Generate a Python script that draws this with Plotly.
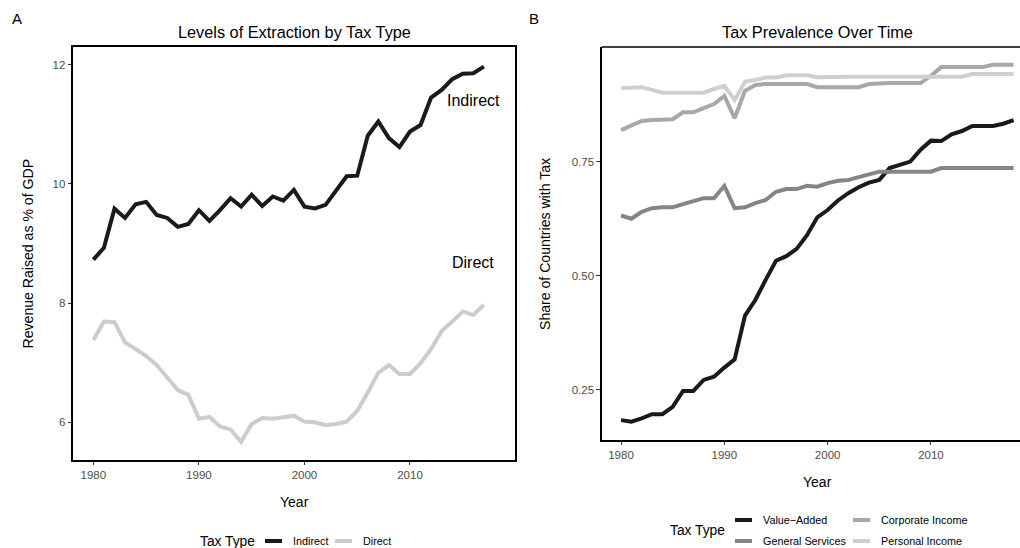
import plotly.graph_objects as go

# ---- Panel A: revenue raised (% of GDP) by tax type ----
years_a = list(range(1980, 2018))
indirect = [8.73, 8.93, 9.585, 9.43, 9.66, 9.70, 9.48, 9.43, 9.28, 9.33,
            9.56, 9.38, 9.56, 9.76, 9.62, 9.82, 9.63, 9.79, 9.72, 9.90,
            9.62, 9.59, 9.65, 9.88, 10.13, 10.14, 10.81, 11.05, 10.77, 10.62,
            10.88, 10.99, 11.45, 11.58, 11.76, 11.85, 11.86, 11.97]
direct = [7.38, 7.69, 7.68, 7.34, 7.23, 7.11, 6.96, 6.76, 6.54, 6.46,
          6.06, 6.09, 5.93, 5.88, 5.67, 5.97, 6.07, 6.06, 6.08, 6.11,
          6.01, 6.00, 5.95, 5.97, 6.01, 6.19, 6.50, 6.83, 6.96, 6.81,
          6.81, 6.99, 7.23, 7.53, 7.69, 7.86, 7.80, 7.97]

# ---- Panel B: share of countries with each tax ----
years_b = list(range(1980, 2019))
value_added = [0.184, 0.1805, 0.188, 0.197, 0.197, 0.213, 0.248, 0.248, 0.272, 0.279,
               0.299, 0.317, 0.413, 0.447, 0.491, 0.533, 0.543, 0.559, 0.589, 0.628,
               0.644, 0.665, 0.681, 0.694, 0.704, 0.710, 0.736, 0.743, 0.750, 0.776,
               0.796, 0.795, 0.810, 0.817, 0.828, 0.828, 0.828, 0.833, 0.841]
general_services = [0.632, 0.625, 0.640, 0.648, 0.650, 0.650, 0.657, 0.663, 0.670, 0.670,
                    0.697, 0.648, 0.650, 0.659, 0.666, 0.684, 0.690, 0.690, 0.697, 0.695,
                    0.703, 0.708, 0.710, 0.716, 0.721, 0.728, 0.728, 0.727, 0.728, 0.728,
                    0.728, 0.736, 0.736, 0.736, 0.736, 0.736, 0.736, 0.736, 0.736]
corporate_income = [0.819, 0.830, 0.839, 0.841, 0.843, 0.843, 0.858, 0.858, 0.867, 0.876,
                    0.894, 0.845, 0.905, 0.918, 0.920, 0.920, 0.920, 0.920, 0.920, 0.913,
                    0.913, 0.913, 0.913, 0.913, 0.920, 0.922, 0.922, 0.922, 0.922, 0.922,
                    0.938, 0.957, 0.957, 0.957, 0.957, 0.957, 0.962, 0.962, 0.962]
personal_income = [0.911, 0.913, 0.913, 0.907, 0.901, 0.901, 0.901, 0.901, 0.901, 0.909,
                   0.916, 0.885, 0.925, 0.929, 0.934, 0.934, 0.939, 0.939, 0.939, 0.935,
                   0.936, 0.936, 0.936, 0.936, 0.936, 0.936, 0.936, 0.936, 0.936, 0.936,
                   0.936, 0.936, 0.936, 0.936, 0.942, 0.942, 0.942, 0.942, 0.942]

year_ticks = [1980, 1990, 2000, 2010]
a_ticks = [6, 8, 10, 12]
b_ticks = [0.25, 0.50, 0.75]
b_tick_text = ["0.25", "0.50", "0.75"]

series_a = [("Indirect", indirect, "#1a1a1a"), ("Direct", direct, "#cccccc")]
series_b = [("Value\u2212Added", value_added, "#1a1a1a"),
            ("General Services", general_services, "#858585"),
            ("Corporate Income", corporate_income, "#a8a8a8"),
            ("Personal Income", personal_income, "#cfcfcf")]

W, H = 1020, 548
FONT = "Liberation Sans, Arial, Helvetica, sans-serif"


def px(x):
    return x / W


def py(y):
    return 1 - y / H


fig = go.Figure()
for name, vals, col in series_a:
    fig.add_trace(go.Scatter(x=years_a, y=vals, mode="lines", name=name,
                             line=dict(color=col, width=4), showlegend=False,
                             xaxis="x", yaxis="y"))
for name, vals, col in series_b:
    fig.add_trace(go.Scatter(x=years_b, y=vals, mode="lines", name=name,
                             line=dict(color=col, width=4), showlegend=False,
                             xaxis="x2", yaxis="y2"))

axis_common = dict(showgrid=False, zeroline=False, showline=True, linecolor="black",
                   linewidth=1.6, ticks="outside", ticklen=3.5, tickwidth=1,
                   tickcolor="#333333",
                   tickfont=dict(family=FONT, size=11.5, color="#4d4d4d"))

annotations = []
shapes = []


def text(x, y, s, size, color="black", angle=0, xanchor="center", yanchor="middle"):
    annotations.append(dict(x=px(x), y=py(y), xref="paper", yref="paper", text=s,
                            showarrow=False, textangle=angle, xanchor=xanchor,
                            yanchor=yanchor,
                            font=dict(family=FONT, size=size, color=color)))


def key(x0, x1, y, color):
    shapes.append(dict(type="line", xref="paper", yref="paper",
                       x0=px(x0), x1=px(x1), y0=py(y), y1=py(y),
                       line=dict(color=color, width=4)))


# panel letters and titles
text(17, 18, "A", 15)
text(534, 18, "B", 15)
text(294, 32, "Levels of Extraction by Tax Type", 16.3)
text(817, 32, "Tax Prevalence Over Time", 16.3)

# axis titles
text(294, 502, "Year", 14)
text(817, 482, "Year", 14)
text(27, 253.5, "Revenue Raised as % of GDP", 14.1, angle=-90)
text(545, 244, "Share of Countries with Tax", 14.1, angle=-90)

# in-plot series labels (panel A)
annotations.append(dict(x=2016, y=11.40, xref="x", yref="y", text="Indirect",
                        showarrow=False, font=dict(family=FONT, size=16, color="black")))
annotations.append(dict(x=2016, y=8.69, xref="x", yref="y", text="Direct",
                        showarrow=False, font=dict(family=FONT, size=16, color="black")))

# legend, panel A
text(227, 541, "Tax Type", 13.8)
key(265, 282, 541, series_a[0][2])
text(291, 541, series_a[0][0], 10.8, xanchor="left")
key(335, 352, 541, series_a[1][2])
text(361, 541, series_a[1][0], 10.8, xanchor="left")

# legend, panel B (two columns, filled column-wise)
text(697, 530.5, "Tax Type", 13.8)
legend_slots = [(735, 520), (735, 541), (853, 520), (853, 541)]
for (name, _, col), (lx, ly) in zip(series_b, legend_slots):
    key(lx, lx + 17, ly, col)
    text(lx + 26, ly, name, 10.8, xanchor="left")

# top border of panel B (its right edge runs past the page)
shapes.append(dict(type="line", xref="paper", yref="paper",
                   x0=px(601.7), x1=1, y0=py(47), y1=py(47),
                   line=dict(color="black", width=1.6)))

fig.update_layout(
    width=W, height=H, autosize=False,
    margin=dict(l=0, r=0, t=0, b=0),
    paper_bgcolor="white", plot_bgcolor="white",
    showlegend=False,
    xaxis=dict(domain=[px(73), px(515)], range=[1978.07, 2019.95],
               tickvals=year_ticks, mirror=True, anchor="y", **axis_common),
    yaxis=dict(domain=[py(460), py(47)], range=[5.366, 12.30],
               tickvals=a_ticks, mirror=True, anchor="x", **axis_common),
    xaxis2=dict(domain=[px(601.7), 1.0], range=[1978.13, 2018.62],
                tickvals=year_ticks, anchor="y2", **axis_common),
    yaxis2=dict(domain=[py(440), py(47)], range=[0.1405, 1.001],
                tickvals=b_ticks, ticktext=b_tick_text, anchor="x2", **axis_common),
    annotations=annotations,
    shapes=shapes,
)

fig.write_html("out.html")
